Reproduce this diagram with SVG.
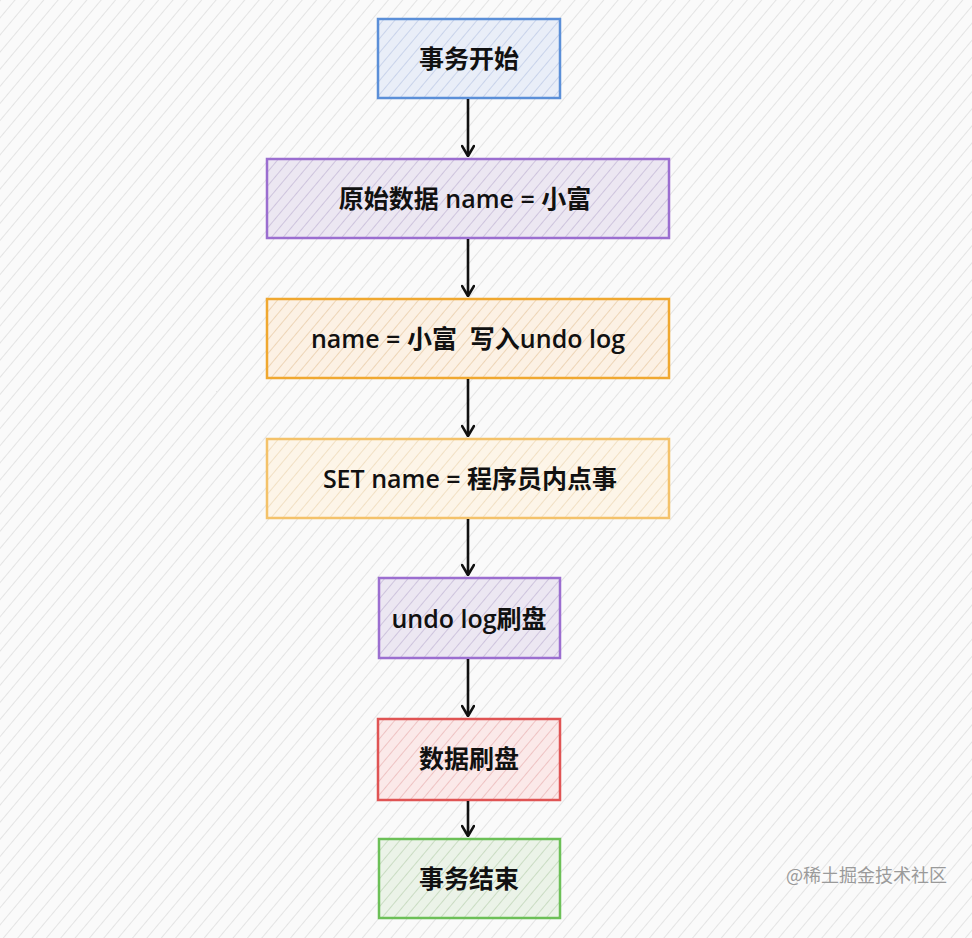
<svg xmlns="http://www.w3.org/2000/svg" width="972" height="938" viewBox="0 0 972 938">
<defs>
<pattern id="bg" width="11" height="11" patternUnits="userSpaceOnUse" patternTransform="rotate(40)">
<rect width="11" height="11" fill="#fafafa"/>
<line x1="0" y1="0" x2="0" y2="11" stroke="#e4e4e4" stroke-width="2"/>
</pattern>
<pattern id="hb" width="9" height="9" patternUnits="userSpaceOnUse" patternTransform="rotate(40)">
<rect width="9" height="9" fill="#e9eef8"/>
<line x1="0" y1="0" x2="0" y2="9" stroke="#bfcbe6" stroke-width="1.5"/>
</pattern>
<pattern id="hp" width="9" height="9" patternUnits="userSpaceOnUse" patternTransform="rotate(40)">
<rect width="9" height="9" fill="#ece7f2"/>
<line x1="0" y1="0" x2="0" y2="9" stroke="#c5b8d6" stroke-width="1.5"/>
</pattern>
<pattern id="ho" width="9" height="9" patternUnits="userSpaceOnUse" patternTransform="rotate(40)">
<rect width="9" height="9" fill="#fcf1e4"/>
<line x1="0" y1="0" x2="0" y2="9" stroke="#e9cca8" stroke-width="1.5"/>
</pattern>
<pattern id="hy" width="9" height="9" patternUnits="userSpaceOnUse" patternTransform="rotate(40)">
<rect width="9" height="9" fill="#fdf5e8"/>
<line x1="0" y1="0" x2="0" y2="9" stroke="#eed9b8" stroke-width="1.5"/>
</pattern>
<pattern id="hr" width="9" height="9" patternUnits="userSpaceOnUse" patternTransform="rotate(40)">
<rect width="9" height="9" fill="#fbe9e9"/>
<line x1="0" y1="0" x2="0" y2="9" stroke="#eab6b6" stroke-width="1.5"/>
</pattern>
<pattern id="hg" width="9" height="9" patternUnits="userSpaceOnUse" patternTransform="rotate(40)">
<rect width="9" height="9" fill="#ebf3e8"/>
<line x1="0" y1="0" x2="0" y2="9" stroke="#bfd5b7" stroke-width="1.5"/>
</pattern>
<marker id="ah" viewBox="0 0 14 14" refX="13" refY="7" markerWidth="14" markerHeight="14" markerUnits="userSpaceOnUse" orient="auto">
<path d="M3,1 L13,7 L3,13" fill="none" stroke="#111" stroke-width="2.6" stroke-linejoin="round" stroke-linecap="round"/>
</marker>
</defs>
<style>
.box{stroke-width:2.5}
.t{font-family:"Open Sans","Noto Sans CJK SC",sans-serif;font-size:25px;font-weight:600;fill:#111;text-anchor:middle;dominant-baseline:central}
.c{stroke:#111;stroke-width:2.6;fill:none}
.wm{font-family:"Noto Sans CJK SC",sans-serif;font-size:18px;fill:#9a9a9a}
</style>
<rect width="972" height="938" fill="url(#bg)"/>
<g id="n1"><rect class="box" x="378" y="19" width="182" height="79" fill="url(#hb)" stroke="#5b8fd8"/><text class="t" x="469" y="58">事务开始</text></g>
<g id="n2"><rect class="box" x="267" y="159" width="402" height="79" fill="url(#hp)" stroke="#9b6ed0"/><text class="t" x="465" y="198">原始数据 name = 小富</text></g>
<g id="n3"><rect class="box" x="267" y="299" width="402" height="79" fill="url(#ho)" stroke="#f0a830"/><text class="t" x="468" y="338" xml:space="preserve">name = 小富  写入undo log</text></g>
<g id="n4"><rect class="box" x="267" y="439" width="402" height="79" fill="url(#hy)" stroke="#f4c26a"/><text class="t" x="470" y="478">SET name = 程序员内点事</text></g>
<g id="n5"><rect class="box" x="379" y="578" width="181" height="80" fill="url(#hp)" stroke="#9b6ed0"/><text class="t" x="469" y="618">undo log刷盘</text></g>
<g id="n6"><rect class="box" x="378" y="719" width="182" height="81" fill="url(#hr)" stroke="#e05454"/><text class="t" x="469" y="758">数据刷盘</text></g>
<g id="n7"><rect class="box" x="379" y="839" width="181" height="79" fill="url(#hg)" stroke="#6cc057"/><text class="t" x="469" y="878">事务结束</text></g>
<g id="connectors">
<line class="c" x1="468" y1="99" x2="468" y2="156" marker-end="url(#ah)"/>
<line class="c" x1="468" y1="239" x2="468" y2="296" marker-end="url(#ah)"/>
<line class="c" x1="468" y1="379" x2="468" y2="436" marker-end="url(#ah)"/>
<line class="c" x1="468" y1="519" x2="468" y2="575" marker-end="url(#ah)"/>
<line class="c" x1="468" y1="659" x2="468" y2="716" marker-end="url(#ah)"/>
<line class="c" x1="468" y1="801" x2="468" y2="836" marker-end="url(#ah)"/>
</g>
<text class="wm" x="786" y="882">@稀土掘金技术社区</text>
</svg>
